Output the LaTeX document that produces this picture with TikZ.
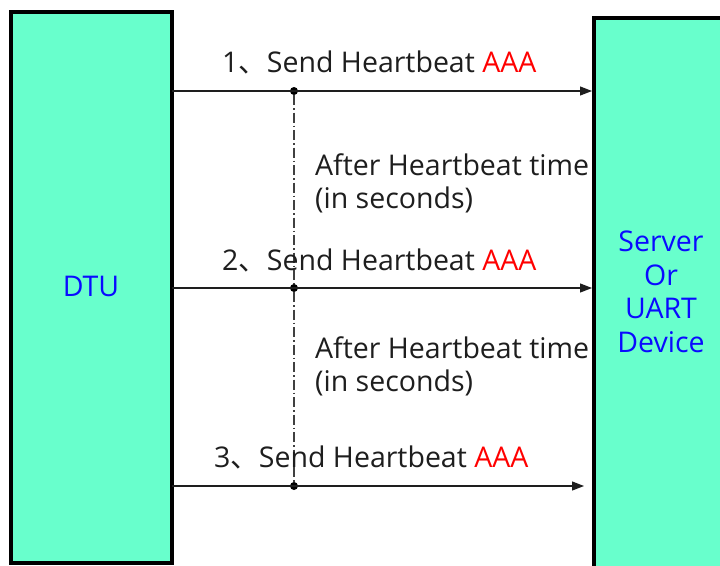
\documentclass[tikz,border=0pt]{standalone}
\usepackage{fontspec}
\setmainfont{Open Sans}
\newfontfamily\cjk{Noto Sans CJK SC}
\usetikzlibrary{arrows.meta}
\definecolor{boxfill}{RGB}{104,255,204}
\definecolor{lbl}{RGB}{10,10,255}
\definecolor{txt}{RGB}{30,30,30}
\tikzset{
  x=1pt, y=-1pt,
  entity/.style={draw=black, line width=3.5pt, fill=boxfill, inner sep=0pt},
  boxtext/.style={text=lbl, font=\fontsize{28.5}{33.5}\selectfont, align=center},
  msg/.style={line width=1.2pt, draw=txt, -{Triangle[length=12pt,width=9pt]}},
  msglabel/.style={anchor=base west, inner sep=0pt, text=txt, font=\fontsize{28.5}{33.5}\selectfont},
  waitlabel/.style={anchor=base west, inner sep=0pt, text=txt, font=\fontsize{28.5}{33}\selectfont, align=left},
  dot/.style={circle, fill=black, inner sep=0pt, minimum size=8pt},
  timeline/.style={draw=txt!85, line width=1.1pt, dash pattern=on 10pt off 3pt on 1.5pt off 3pt}
}
\newcommand{\aaa}{\textcolor{red}{AAA}}
\begin{document}
\begin{tikzpicture}
\useasboundingbox (0,0) rectangle (720,565);
\clip (0,0) rectangle (720,565);
\fill[white] (0,0) rectangle (720,565);
% entities
\draw[entity] (11,12) rectangle (172,563);
\node[boxtext] (dtu) at (91,286) {DTU};
\draw[entity] (594,18) rectangle (740,580);
\node[boxtext] (srv) at (661,292) {Server\\Or\\UART\\Device};
% anchor coordinates
\coordinate (s1) at (172,91);
\coordinate (e1) at (592,91);
\coordinate (s2) at (172,288);
\coordinate (e2) at (592,288);
\coordinate (s3) at (172,486);
\coordinate (e3) at (584,486);
\node[dot] (d1) at (294,91) {};
\node[dot] (d2) at (294,288) {};
\node[dot] (d3) at (294,486) {};
% time line
\draw[timeline] (d1) -- (d2) -- (d3);
% messages
\draw[msg] (s1) -- (e1);
\draw[msg] (s2) -- (e2);
\draw[msg] (s3) -- (e3);
\node[msglabel] (m1) at (222,72) {1{\cjk 、}Send Heartbeat \aaa};
\node[msglabel] (m2) at (222,270) {2{\cjk 、}Send Heartbeat \aaa};
\node[msglabel] (m3) at (214,467) {3{\cjk 、}Send Heartbeat \aaa};
\node[waitlabel] (w1) at (315,208) {After Heartbeat time\\(in seconds)};
\node[waitlabel] (w2) at (315,391) {After Heartbeat time\\(in seconds)};
\end{tikzpicture}
\end{document}
